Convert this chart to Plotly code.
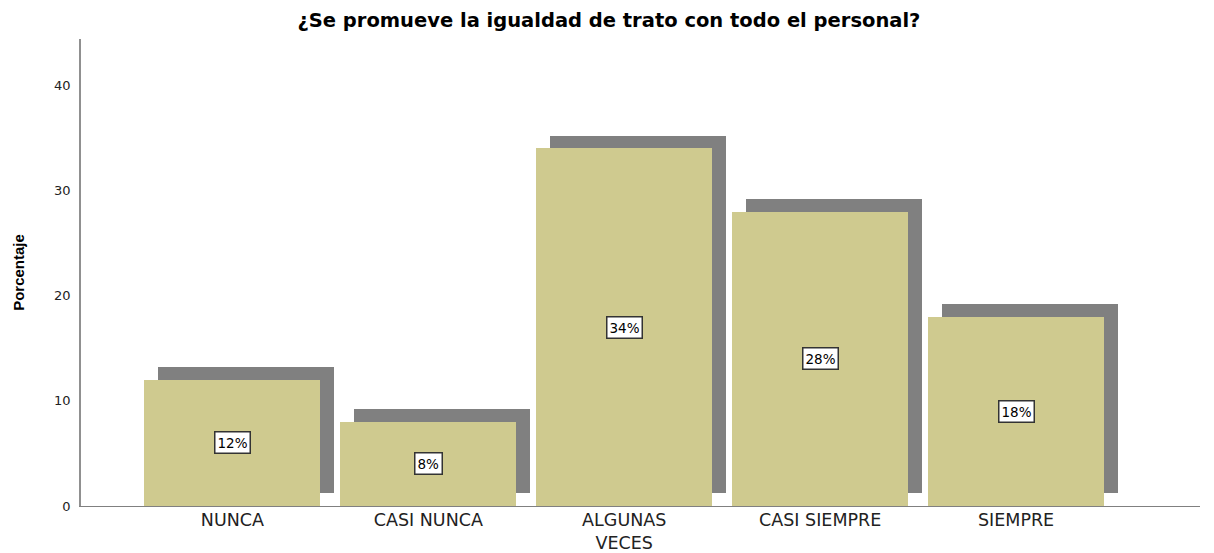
import plotly.graph_objects as go

categories = ["NUNCA", "CASI NUNCA", "ALGUNAS<br>VECES", "CASI SIEMPRE", "SIEMPRE"]
percentages = [12, 8, 34, 28, 18]
label_texts = ["12%", "8%", "34%", "28%", "18%"]

x_idx = list(range(len(categories)))
shadow_dx = 0.0715
shadow_dy = 1.2
bar_w = 0.898
WIDE = "DejaVu Sans, Arial, Liberation Sans"

fig = go.Figure()
fig.add_trace(go.Bar(
    x=[i + shadow_dx for i in x_idx], y=percentages, base=[shadow_dy] * len(percentages),
    width=bar_w, marker=dict(color="#808080", line=dict(width=0)),
    hoverinfo="skip", showlegend=False))
fig.add_trace(go.Bar(
    x=x_idx, y=percentages, width=bar_w,
    marker=dict(color="#cfca8f", line=dict(width=0)),
    showlegend=False))

for i, (v, t) in enumerate(zip(percentages, label_texts)):
    fig.add_annotation(x=i, y=v / 2, text=t, showarrow=False,
                       font=dict(family=WIDE, size=13.5, color="#000"),
                       bgcolor="white", bordercolor="#333", borderwidth=1.5, borderpad=2)

fig.update_layout(
    width=1206, height=545,
    margin=dict(l=73, r=14, t=31, b=47),
    barmode="overlay",
    plot_bgcolor="white", paper_bgcolor="white",
    font=dict(family=WIDE, color="#222"),
    title=dict(text="<b>¿Se promueve la igualdad de trato con todo el personal?</b>",
               x=0.4983, xanchor="center", y=0.978, yanchor="middle",
               font=dict(family=WIDE, size=19.5, color="#000")),
    xaxis=dict(range=[-0.773, 4.939], tickvals=x_idx, ticktext=categories,
               showgrid=False, zeroline=False, showline=True, linecolor="#808080",
               linewidth=1, ticks="", automargin=False, ticklabelstandoff=-2,
               tickfont=dict(family=WIDE, size=17.5, color="#222")),
    yaxis=dict(range=[0, 44.4], tickvals=[0, 10, 20, 30, 40], showgrid=False,
               zeroline=False, showline=True, linecolor="#909090", linewidth=1.5,
               ticks="", ticklen=0, automargin=False, ticklabelstandoff=6,
               tickfont=dict(family=WIDE, size=13, color="#222"),
               title=dict(text="<b>Porcentaje</b>",
                          font=dict(family="Arial, Liberation Sans", size=15, color="#000"),
                          standoff=26)),
    bargap=0,
)

fig.write_html("out.html")
